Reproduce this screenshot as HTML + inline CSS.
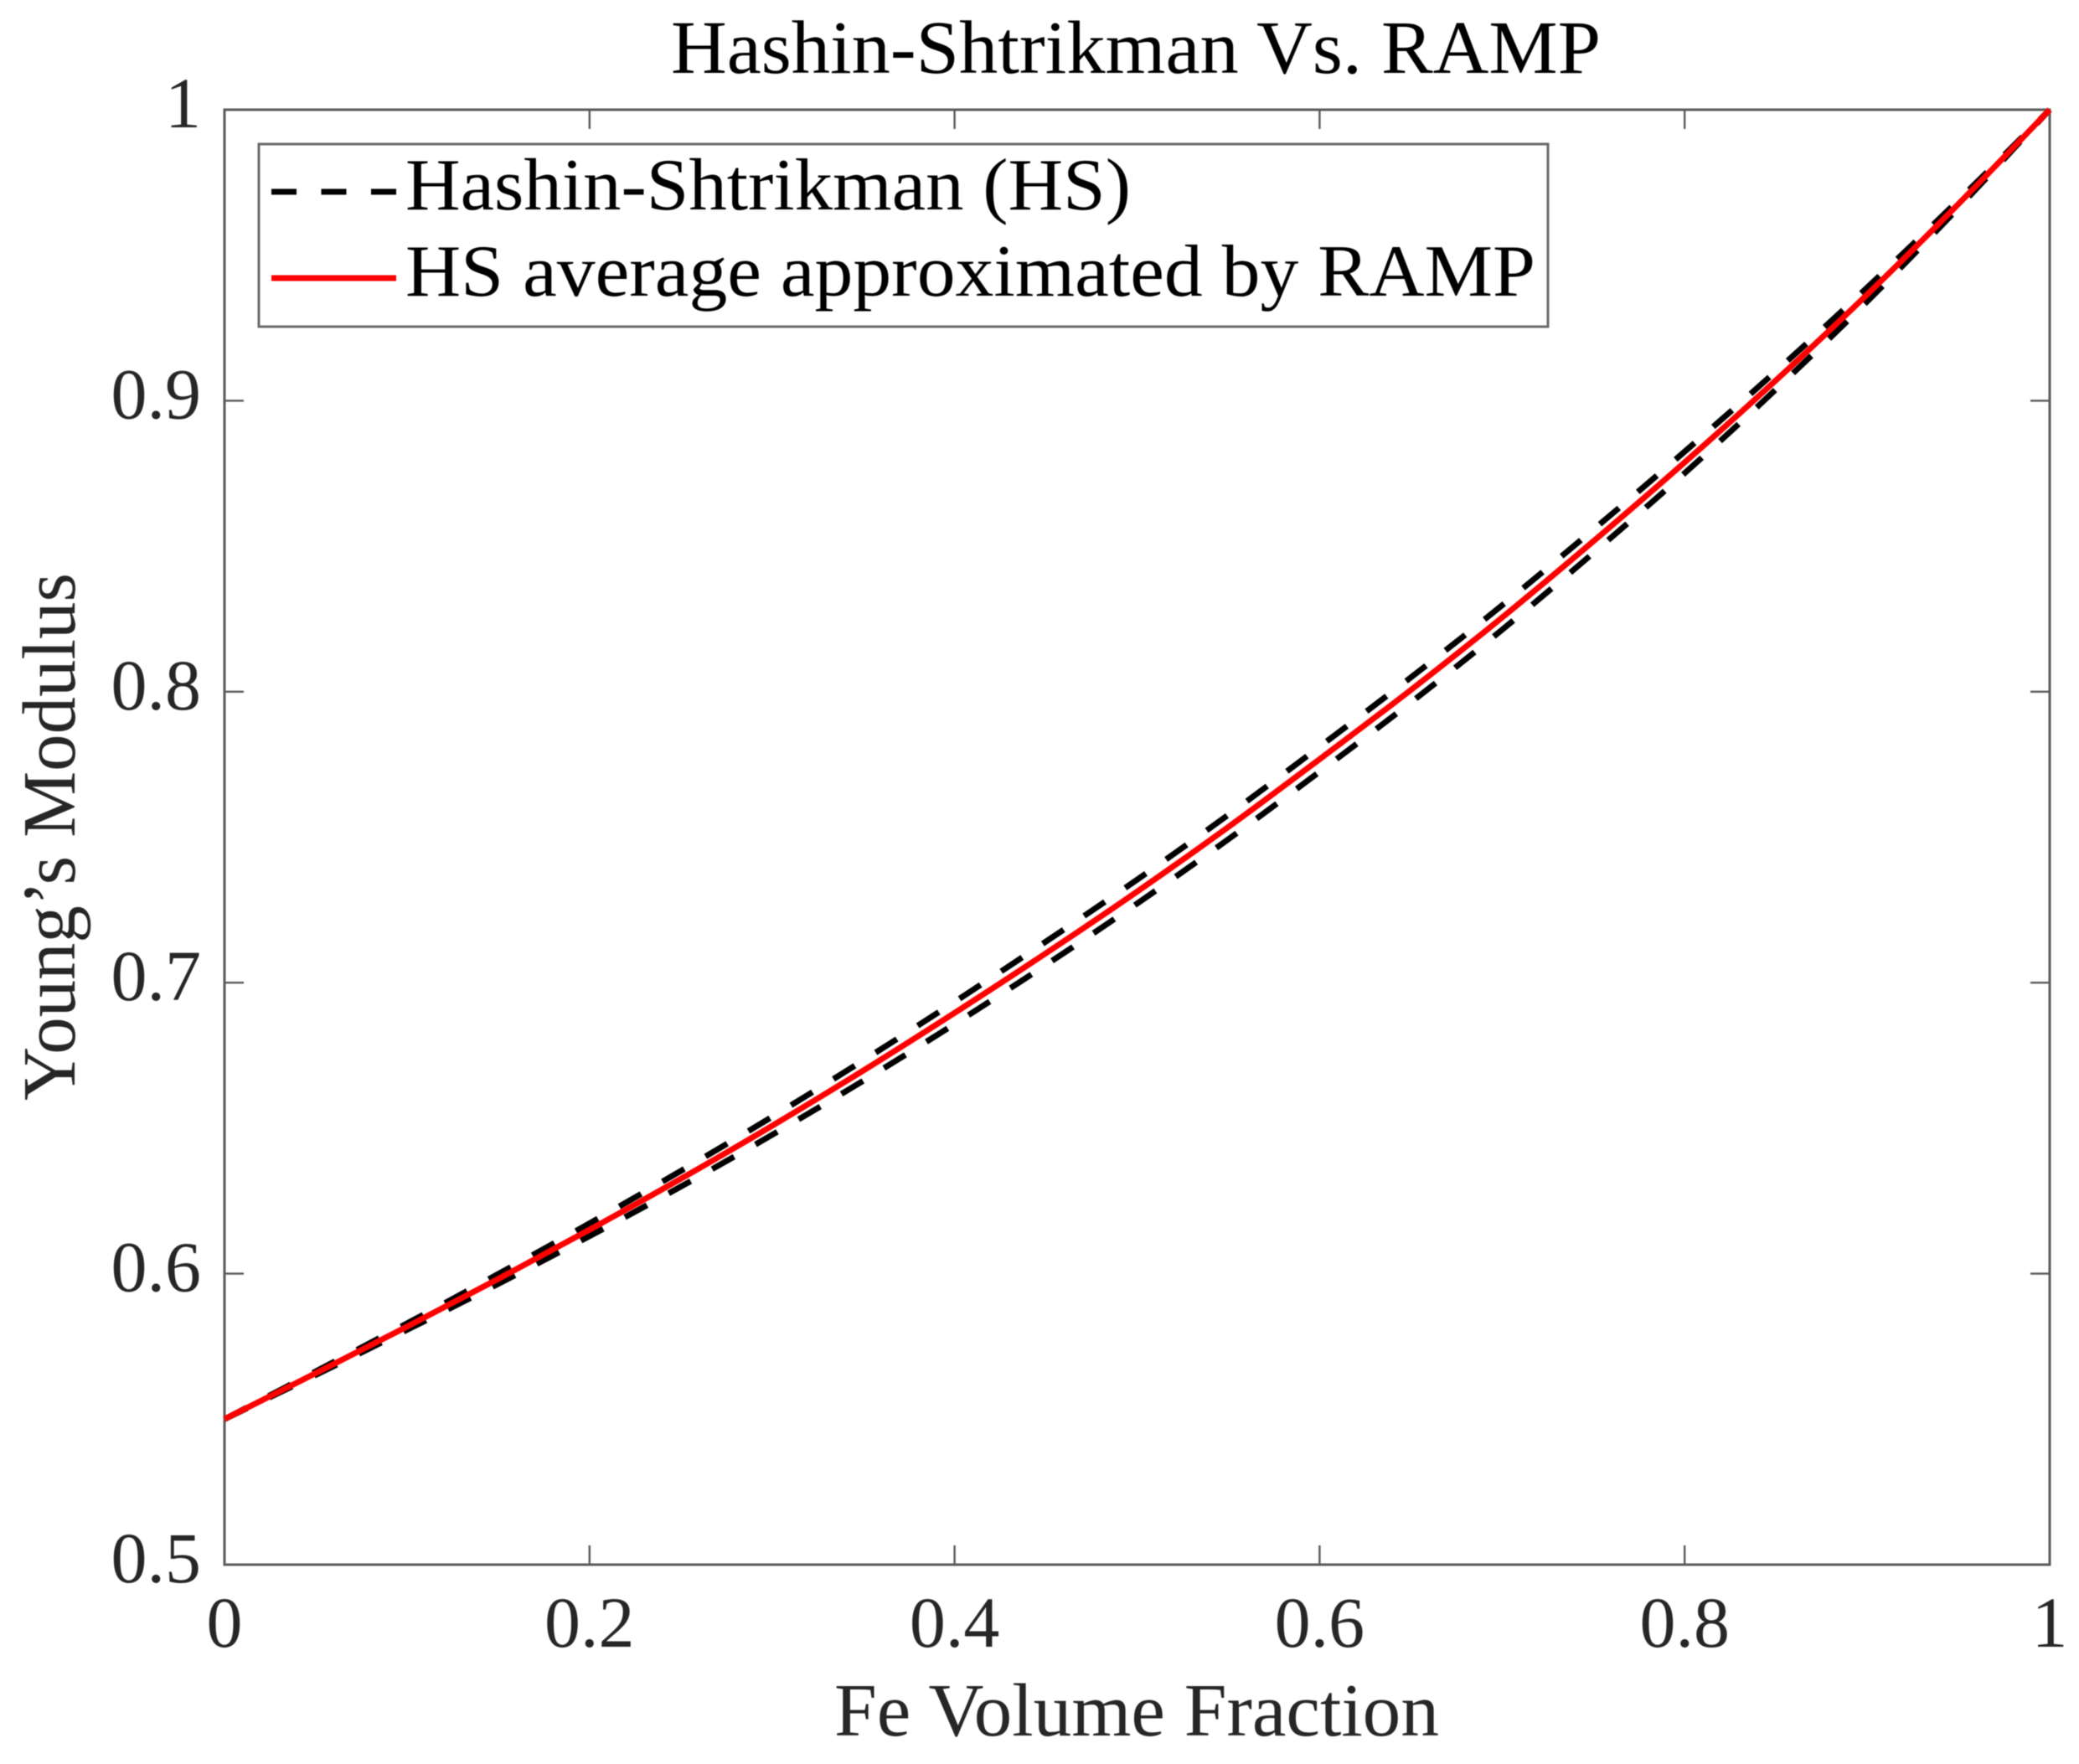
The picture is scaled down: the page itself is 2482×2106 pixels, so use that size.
<!DOCTYPE html>
<html lang="en">
<head>
<meta charset="utf-8">
<title>Hashin-Shtrikman Vs. RAMP</title>
<style>
html,body{margin:0;padding:0;background:#fff;}
svg{display:block;filter:blur(0.6px);}
text{font-family:"Liberation Serif",serif;}
</style>
</head>
<body>
<svg id="chart" xmlns="http://www.w3.org/2000/svg" width="2482" height="2106" viewBox="0 0 2482 2106">
  <rect x="0" y="0" width="2482" height="2106" fill="#ffffff"/>
  <text x="801" y="87" font-size="90" fill="#000" textLength="1110" lengthAdjust="spacingAndGlyphs">Hashin-Shtrikman Vs. RAMP</text>
  <text x="996" y="2072" font-size="90" fill="#262626" textLength="722" lengthAdjust="spacingAndGlyphs">Fe Volume Fraction</text>
  <text transform="translate(89,1314) rotate(-90)" font-size="90" fill="#262626" textLength="630" lengthAdjust="spacingAndGlyphs">Young’s Modulus</text>
  <g id="ticks"></g>
  <g id="series"></g>
  <rect x="268" y="131" width="2179" height="1737" fill="none" stroke="#5a5a5a" stroke-width="3"/>
  <g id="redraw"></g>
  <g>
    <rect x="309" y="172" width="1539" height="218" fill="#ffffff" stroke="#6a6a6a" stroke-width="3"/>
    <line x1="324" y1="229" x2="473" y2="229" stroke="#000" stroke-width="7" stroke-dasharray="30 29.5"/>
    <text x="484" y="250" font-size="88" fill="#000" textLength="866" lengthAdjust="spacingAndGlyphs">Hashin-Shtrikman (HS)</text>
    <line x1="324" y1="332" x2="473" y2="332" stroke="#ff0000" stroke-width="7"/>
    <text x="484" y="353" font-size="88" fill="#000" textLength="1349" lengthAdjust="spacingAndGlyphs">HS average approximated by RAMP</text>
  </g>
</svg>
<script>
const feFraction = [0,0.05,0.1,0.15,0.2,0.25,0.3,0.35,0.4,0.45,0.5,0.55,0.6,0.65,0.7,0.75,0.8,0.85,0.9,0.95,1];
const hsUpper = [0.55,0.5664,0.5829,0.5999,0.6173,0.6353,0.6539,0.6733,0.6934,0.7141,0.7354,0.7577,0.7811,0.8049,0.8297,0.8557,0.8825,0.9101,0.9389,0.9689,1];
const hsLower = [0.55,0.5652,0.5807,0.5965,0.6129,0.6299,0.6477,0.6663,0.6858,0.7061,0.7272,0.7493,0.7725,0.7963,0.8213,0.8477,0.8751,0.9039,0.9341,0.9663,1];
const rampAverage = [0.55,0.5658,0.5818,0.5982,0.6151,0.6326,0.6508,0.6698,0.6896,0.7101,0.7313,0.7535,0.7768,0.8006,0.8255,0.8517,0.8788,0.907,0.9365,0.9676,1];
const xTickValues = [0,0.2,0.4,0.6,0.8,1];
const xTickLabels = ["0","0.2","0.4","0.6","0.8","1"];
const yTickValues = [0.5,0.6,0.7,0.8,0.9,1];
const yTickLabels = ["0.5","0.6","0.7","0.8","0.9","1"];

const SVG_NS = "http://www.w3.org/2000/svg";
const plotLeft = 268, plotRight = 2447, plotTop = 131, plotBottom = 1868, tickLen = 23;
function xScale(v){ return plotLeft + (v - 0) / (1 - 0) * (plotRight - plotLeft); }
function yScale(v){ return plotBottom - (v - 0.5) / (1 - 0.5) * (plotBottom - plotTop); }
function make(tag, attrs){
  const el = document.createElementNS(SVG_NS, tag);
  for (const k in attrs) el.setAttribute(k, attrs[k]);
  return el;
}
function linePath(xs, ys){
  const pts = xs.map(function(x, i){ return [xScale(x), yScale(ys[i])]; });
  let d = "M" + pts[0][0].toFixed(2) + " " + pts[0][1].toFixed(2);
  for (let i = 0; i < pts.length - 1; i++) {
    const p0 = pts[Math.max(i - 1, 0)], p1 = pts[i], p2 = pts[i + 1], p3 = pts[Math.min(i + 2, pts.length - 1)];
    const c1x = p1[0] + (p2[0] - p0[0]) / 6, c1y = p1[1] + (p2[1] - p0[1]) / 6;
    const c2x = p2[0] - (p3[0] - p1[0]) / 6, c2y = p2[1] - (p3[1] - p1[1]) / 6;
    d += " C" + c1x.toFixed(2) + " " + c1y.toFixed(2) + " " + c2x.toFixed(2) + " " + c2y.toFixed(2) + " " + p2[0].toFixed(2) + " " + p2[1].toFixed(2);
  }
  return d;
}
const tickGroup = document.getElementById("ticks");
const tickStyle = {stroke:"#5a5a5a","stroke-width":2.4,fill:"none"};

xTickValues.forEach(function(v, i){
  const x = xScale(v);
  const bottom = make("line", Object.assign({x1:x,x2:x,y1:plotBottom,y2:plotBottom-tickLen}, tickStyle));
  
  
  tickGroup.appendChild(bottom);
  const top = make("line", Object.assign({x1:x,x2:x,y1:plotTop,y2:plotTop+tickLen}, tickStyle));
  
  
  tickGroup.appendChild(top);
  const label = make("text", {x:x,y:1966,"font-size":86,fill:"#262626","text-anchor":"middle"});
  
  
  label.textContent = xTickLabels[i];
  tickGroup.appendChild(label);
});

yTickValues.forEach(function(v, i){
  const y = yScale(v);
  const left = make("line", Object.assign({x1:plotLeft,x2:plotLeft+tickLen,y1:y,y2:y}, tickStyle));
  
  
  tickGroup.appendChild(left);
  const right = make("line", Object.assign({x1:plotRight,x2:plotRight-tickLen,y1:y,y2:y}, tickStyle));
  
  
  tickGroup.appendChild(right);
  const label = make("text", {x:240,y:y+21,"font-size":86,fill:"#262626","text-anchor":"end"});
  
  
  label.textContent = yTickLabels[i];
  tickGroup.appendChild(label);
});

const seriesGroup = document.getElementById("series");
const upperLine = make("path", {d:linePath(feFraction, hsUpper),fill:"none",stroke:"#000","stroke-width":7,"stroke-dasharray":"30 29.5"});


seriesGroup.appendChild(upperLine);
const lowerLine = make("path", {d:linePath(feFraction, hsLower),fill:"none",stroke:"#000","stroke-width":7,"stroke-dasharray":"30 29.5"});


seriesGroup.appendChild(lowerLine);

const redrawGroup = document.getElementById("redraw");
const rampLine = make("path", {d:linePath(feFraction, rampAverage),fill:"none",stroke:"#ff0000","stroke-width":7,"stroke-linejoin":"round"});


redrawGroup.appendChild(rampLine);
</script>
</body>
</html>
